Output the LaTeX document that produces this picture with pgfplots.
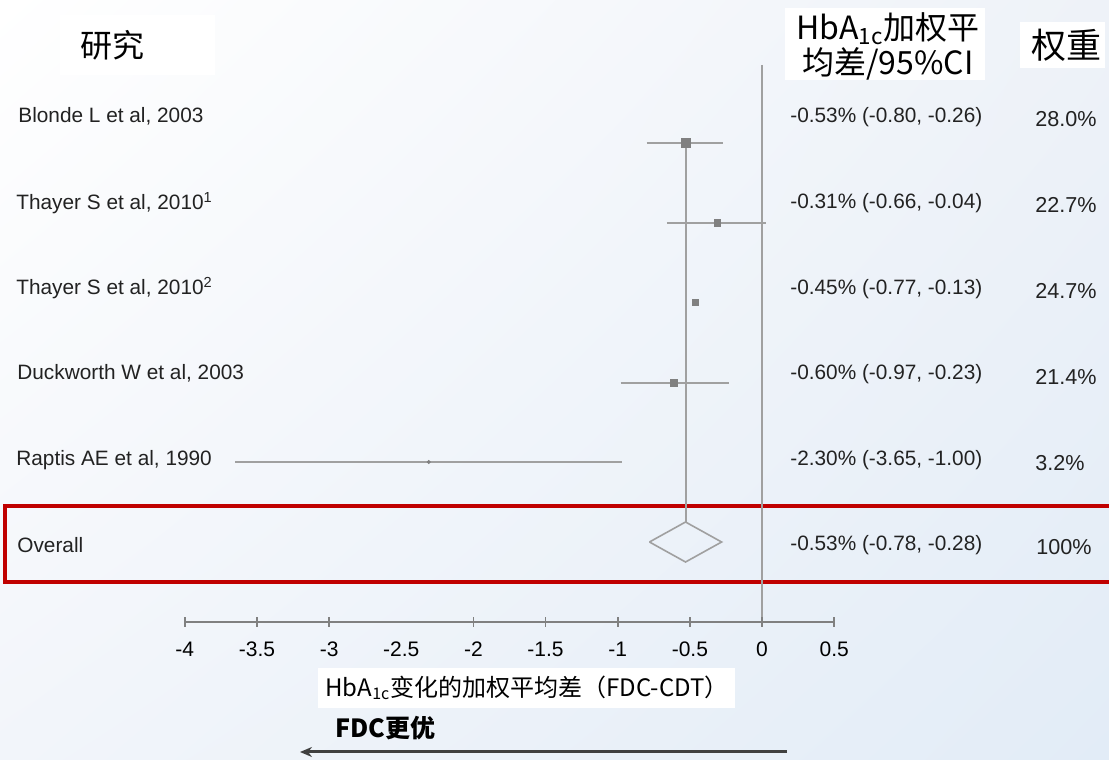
\documentclass[border=0pt]{standalone}
\usepackage{pgfplots}
\pgfplotsset{compat=1.18}
\usetikzlibrary{arrows.meta,shadings}
\usepackage{fontspec}
\setmainfont{Liberation Sans}
\newfontfamily\cjk{Noto Sans CJK SC}

\definecolor{ptgray}{HTML}{808080}
\definecolor{lngray}{HTML}{A0A0A0}
\definecolor{boxred}{HTML}{C00000}
\definecolor{txt}{HTML}{222222}
\definecolor{bgbr}{HTML}{E2ECF7}
\definecolor{bgtr}{HTML}{EEF2F8}
\definecolor{bgbl}{HTML}{F2F5FA}

\begin{document}
\begin{tikzpicture}
\useasboundingbox (0,0) rectangle (554.5pt,380pt);
% background, 1 px = 0.5pt
\shade[upper left=white, upper right=bgtr, lower left=bgbl, lower right=bgbr]
  (0,0) rectangle (554.5pt,380pt);

\begin{scope}[shift={(0,380pt)}, x=0.5pt, y=-0.5pt]
  % white patches behind the headings
  \fill[white] (60,15) rectangle (215,75);
  \fill[white] (785,8) rectangle (985,80);
  \fill[white] (1020,22) rectangle (1105,68);
  \fill[white] (318,668) rectangle (735,708);

  % headings
  \node[anchor=west, inner sep=0, font=\cjk\fontsize{16}{18}\selectfont] at (80,45) {研究};
  \node[align=center, inner sep=0, font=\cjk\fontsize{16}{17.5}\selectfont] at (888,46)
    {HbA\textsubscript{1c}加权平\\均差/95\%CI};
  \node[inner sep=0, font=\cjk\fontsize{17.5}{19}\selectfont] at (1066,45) {权重};

  % study names
  \begin{scope}[every node/.style={anchor=west, inner sep=0, text=txt, font=\fontsize{10.4}{12}\selectfont}]
    \node at (18,116) {Blonde L et al, 2003};
    \node at (16,203) {Thayer S et al, 2010\textsuperscript{1}};
    \node at (16,288) {Thayer S et al, 2010\textsuperscript{2}};
    \node at (17,373) {Duckworth W et al, 2003};
    \node at (16,460) {Raptis AE et al, 1990};
    \node at (17,545) {Overall};
  \end{scope}

  % mean differences
  \begin{scope}[every node/.style={anchor=west, inner sep=0, text=txt, font=\fontsize{10.4}{12}\selectfont}]
    \node at (790,117) {-0.53\% (-0.80, -0.26)};
    \node at (790,203) {-0.31\% (-0.66, -0.04)};
    \node at (790,289) {-0.45\% (-0.77, -0.13)};
    \node at (790,374) {-0.60\% (-0.97, -0.23)};
    \node at (790,460) {-2.30\% (-3.65, -1.00)};
    \node at (790,545) {-0.53\% (-0.78, -0.28)};
  \end{scope}

  % weights
  \begin{scope}[every node/.style={anchor=west, inner sep=0, text=txt, font=\fontsize{10.8}{12}\selectfont}]
    \node at (1035,119) {28.0\%};
    \node at (1035,205) {22.7\%};
    \node at (1035,291) {24.7\%};
    \node at (1035,377) {21.4\%};
    \node at (1035,463) {3.2\%};
    \node at (1036,547) {100\%};
  \end{scope}

  % overall box
  \draw[boxred, line width=2pt] (5,506) rectangle (1115,582);

  % x label and direction
  \node[inner sep=0, font=\cjk\fontsize{12}{14}\selectfont] at (527,688)
    {HbA\textsubscript{1c}变化的加权平均差（FDC-CDT）};
  \node[anchor=west, inner sep=0, font=\cjk\bfseries\fontsize{12.5}{14}\selectfont] at (335,728) {FDC更优};
  \draw[-{Stealth[length=6pt,width=5pt]}, line width=1.5pt, color=black!75] (787,752) -- (300,752);
\end{scope}

% data, x in data units, y in pixel rows
\begin{axis}[
    at={(0,0)}, anchor=south west,
    scale only axis, width=554.5pt, height=380pt,
    xmin=-5.2807, xmax=2.4047,
    ymin=0, ymax=760, y dir=reverse,
    hide axis, clip=false,
  ]
  % reference lines
  \addplot[lngray, line width=1pt] coordinates {(0,65) (0,622)};
  \addplot[lngray, line width=1pt] coordinates {(-0.53,143) (-0.53,522)};
  % confidence intervals
  \addplot[lngray, line width=0.8pt] coordinates {(-0.80,143) (-0.27,143)};
  \addplot[lngray, line width=0.8pt] coordinates {(-0.66,223) (0.03,223)};
  \addplot[lngray, line width=0.8pt] coordinates {(-0.98,383) (-0.23,383)};
  \addplot[lngray, line width=0.8pt] coordinates {(-3.65,462) (-0.97,462)};
  % estimates
  \addplot[only marks, mark=square*, ptgray, mark size=2.3pt] coordinates {(-0.53,143)};
  \addplot[only marks, mark=square*, ptgray, mark size=1.6pt] coordinates {(-0.31,223)};
  \addplot[only marks, mark=square*, ptgray, mark size=1.5pt] coordinates {(-0.46,302)};
  \addplot[only marks, mark=square*, ptgray, mark size=1.8pt] coordinates {(-0.61,383)};
  \addplot[only marks, mark=*, ptgray, mark size=0.8pt] coordinates {(-2.31,462)};
  % pooled estimate
  \addplot[lngray, line width=0.8pt] coordinates {(-0.78,542) (-0.53,522) (-0.28,542) (-0.53,562) (-0.78,542)};
\end{axis}

% scale
\begin{axis}[
    at={(92.4pt,69pt)}, anchor=south west,
    scale only axis, width=324.7pt, height=10pt,
    xmin=-4, xmax=0.5, ymin=0, ymax=1,
    axis x line=bottom, axis y line=none,
    x axis line style={-, draw=ptgray, line width=0.8pt},
    xtick={-4,-3.5,-3,-2,-1.5,-1,-0.5,0,0.5},
    extra x ticks={-2.5},
    extra x tick style={tick style={draw=none}},
    tick align=center, major tick length=5pt,
    tick style={draw=ptgray, line width=0.8pt},
    xticklabel style={font=\fontsize{10.5}{12}\selectfont, text=black, yshift=-4pt},
    /pgf/number format/assume math mode=true,
  ]
  \addplot[draw=none] coordinates {(0,0)};
\end{axis}
\end{tikzpicture}
\end{document}
